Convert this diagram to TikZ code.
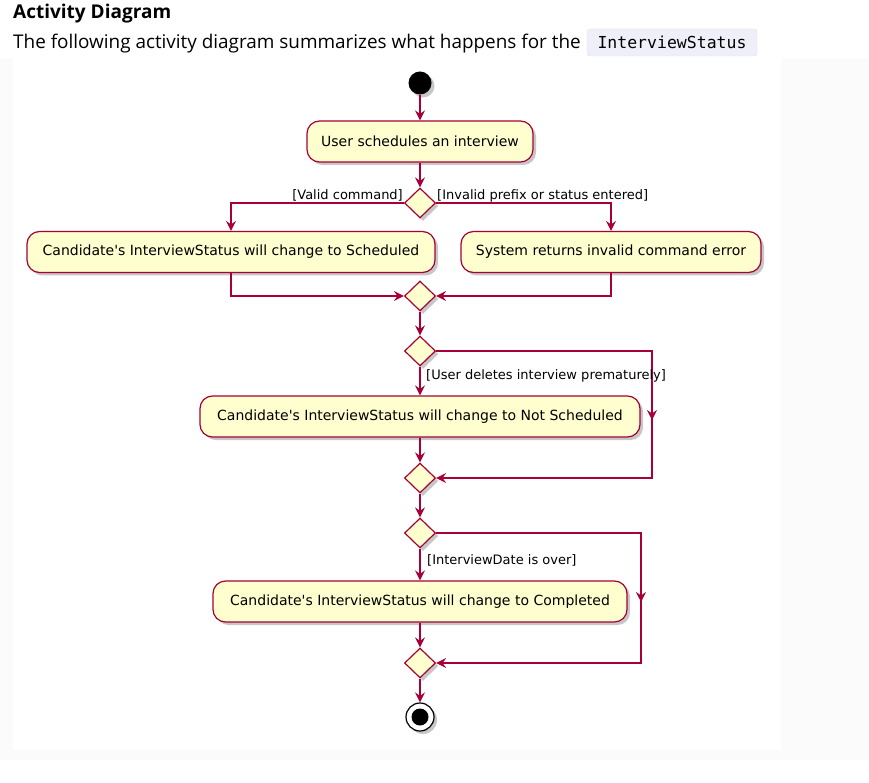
\documentclass[tikz,border=0pt]{standalone}
\usepackage{fontspec}
\setmainfont{DejaVu Sans}
\newfontfamily\pagefont{Open Sans}
\newfontfamily\codefont{DejaVu Sans Mono}
\usetikzlibrary{shapes.geometric,arrows.meta,shadows}
\definecolor{pu}{HTML}{A80036}
\definecolor{pufill}{HTML}{FEFECE}
\definecolor{codebg}{HTML}{EFEFFA}
\definecolor{codeborder}{HTML}{E4E4F0}
\definecolor{bandgrey}{HTML}{FBFBFB}
\newcommand{\sq}{\textquotesingle}
\begin{document}
\begin{tikzpicture}[x=1pt,y=-1pt,
  shad/.style={drop shadow={shadow xshift=3pt,shadow yshift=-3pt,fill=black,opacity=0.22}},
  act/.style={draw=pu,fill=pufill,line width=1.2pt,rounded corners=12.5pt,
    minimum height=41pt,inner sep=0pt,font=\fontsize{14}{16}\selectfont,shad},
  dec/.style={diamond,draw=pu,fill=pufill,line width=1.2pt,inner sep=0pt,
    minimum width=31pt,minimum height=30pt,shad},
  flow/.style={draw=pu,line width=1.2pt},
  arr/.style={flow,-{Stealth[length=10pt,width=10pt,inset=3.5pt]}},
  guard/.style={font=\fontsize{13}{15}\selectfont,inner sep=0pt},
]
\useasboundingbox (0,0) rectangle (869,783);
\fill[white] (0,0) rectangle (869,783);
\fill[bandgrey] (0,58) rectangle (869,760);
\fill[white] (13,58) rectangle (781,750);

% page header
\node[anchor=base west,inner sep=0pt,font=\pagefont\bfseries\fontsize{19}{22}\selectfont] (title) at (13,18.5) {Activity Diagram};
\node[anchor=base west,inner sep=0pt,font=\pagefont\fontsize{18.9}{22}\selectfont] (sub) at (13,48.5) {The following activity diagram summarizes what happens for the};
\node[draw=codeborder,fill=codebg,rounded corners=3pt,minimum width=170pt,minimum height=27pt,inner sep=0pt] (codebox) at (672,42.5) {};
\node[anchor=base,inner sep=0pt,font=\codefont\fontsize{16.5}{20}\selectfont] (code) at (672,49) {InterviewStatus};

% diagram nodes
\node[circle,fill=black,minimum size=23pt,inner sep=0pt,shad] (start) at (420,83) {};
\node[act,minimum width=226pt] (b1) at (420,141.5) {User schedules an interview};
\node[dec] (d1) at (420,203) {};
\node[act,minimum width=408pt] (b2) at (231,252) {Candidate\sq s InterviewStatus will change to Scheduled};
\node[act,minimum width=300pt] (b3) at (611,252) {System returns invalid command error};
\node[dec] (d2) at (420,296) {};
\node[dec] (d3) at (420,351) {};
\node[act,minimum width=440pt] (b4) at (420,416.5) {Candidate\sq s InterviewStatus will change to Not Scheduled};
\node[dec] (d4) at (420,478) {};
\node[dec] (d5) at (420,533) {};
\node[act,minimum width=414pt] (b5) at (420,601.5) {Candidate\sq s InterviewStatus will change to Completed};
\node[dec] (d6) at (420,663) {};
\node[circle,draw=black,fill=white,line width=1.2pt,minimum size=28pt,inner sep=0pt,shad] (stop) at (420,717) {};
\node[circle,fill=black,minimum size=17pt,inner sep=0pt] (stopdot) at (420,717) {};

\coordinate (r1) at (652,351);
\coordinate (r1m) at (652,420);
\coordinate (r2) at (652,478);
\coordinate (s1) at (641,533);
\coordinate (s1m) at (641,602);
\coordinate (s2) at (641,663);

% connectors
\draw[arr] (start) -- (b1);
\draw[arr] (b1) -- (d1);
\draw[arr] (d1.west) -| (b2.north);
\draw[arr] (d1.east) -| (b3.north);
\draw[arr] (b2.south) |- (d2.west);
\draw[arr] (b3.south) |- (d2.east);
\draw[arr] (d2) -- (d3);
\draw[arr] (d3) -- (b4);
\draw[arr] (d3.east) -- (r1) -- (r2) -- (d4.east);
\draw[arr] (r1) -- (r1m);
\draw[arr] (b4) -- (d4);
\draw[arr] (d4) -- (d5);
\draw[arr] (d5) -- (b5);
\draw[arr] (d5.east) -- (s1) -- (s2) -- (d6.east);
\draw[arr] (s1) -- (s1m);
\draw[arr] (b5) -- (d6);
\draw[arr] (d6) -- (stop);

% guards
\node[guard,anchor=base east] (g1) at (403,199.5) {[Valid command]};
\node[guard,anchor=base west] (g2) at (437,199.5) {[Invalid prefix or status entered]};
\node[guard,anchor=base west] (g3) at (426,379) {[User deletes interview prematurely]};
\node[guard,anchor=base west] (g4) at (427,564) {[InterviewDate is over]};
\end{tikzpicture}
\end{document}
